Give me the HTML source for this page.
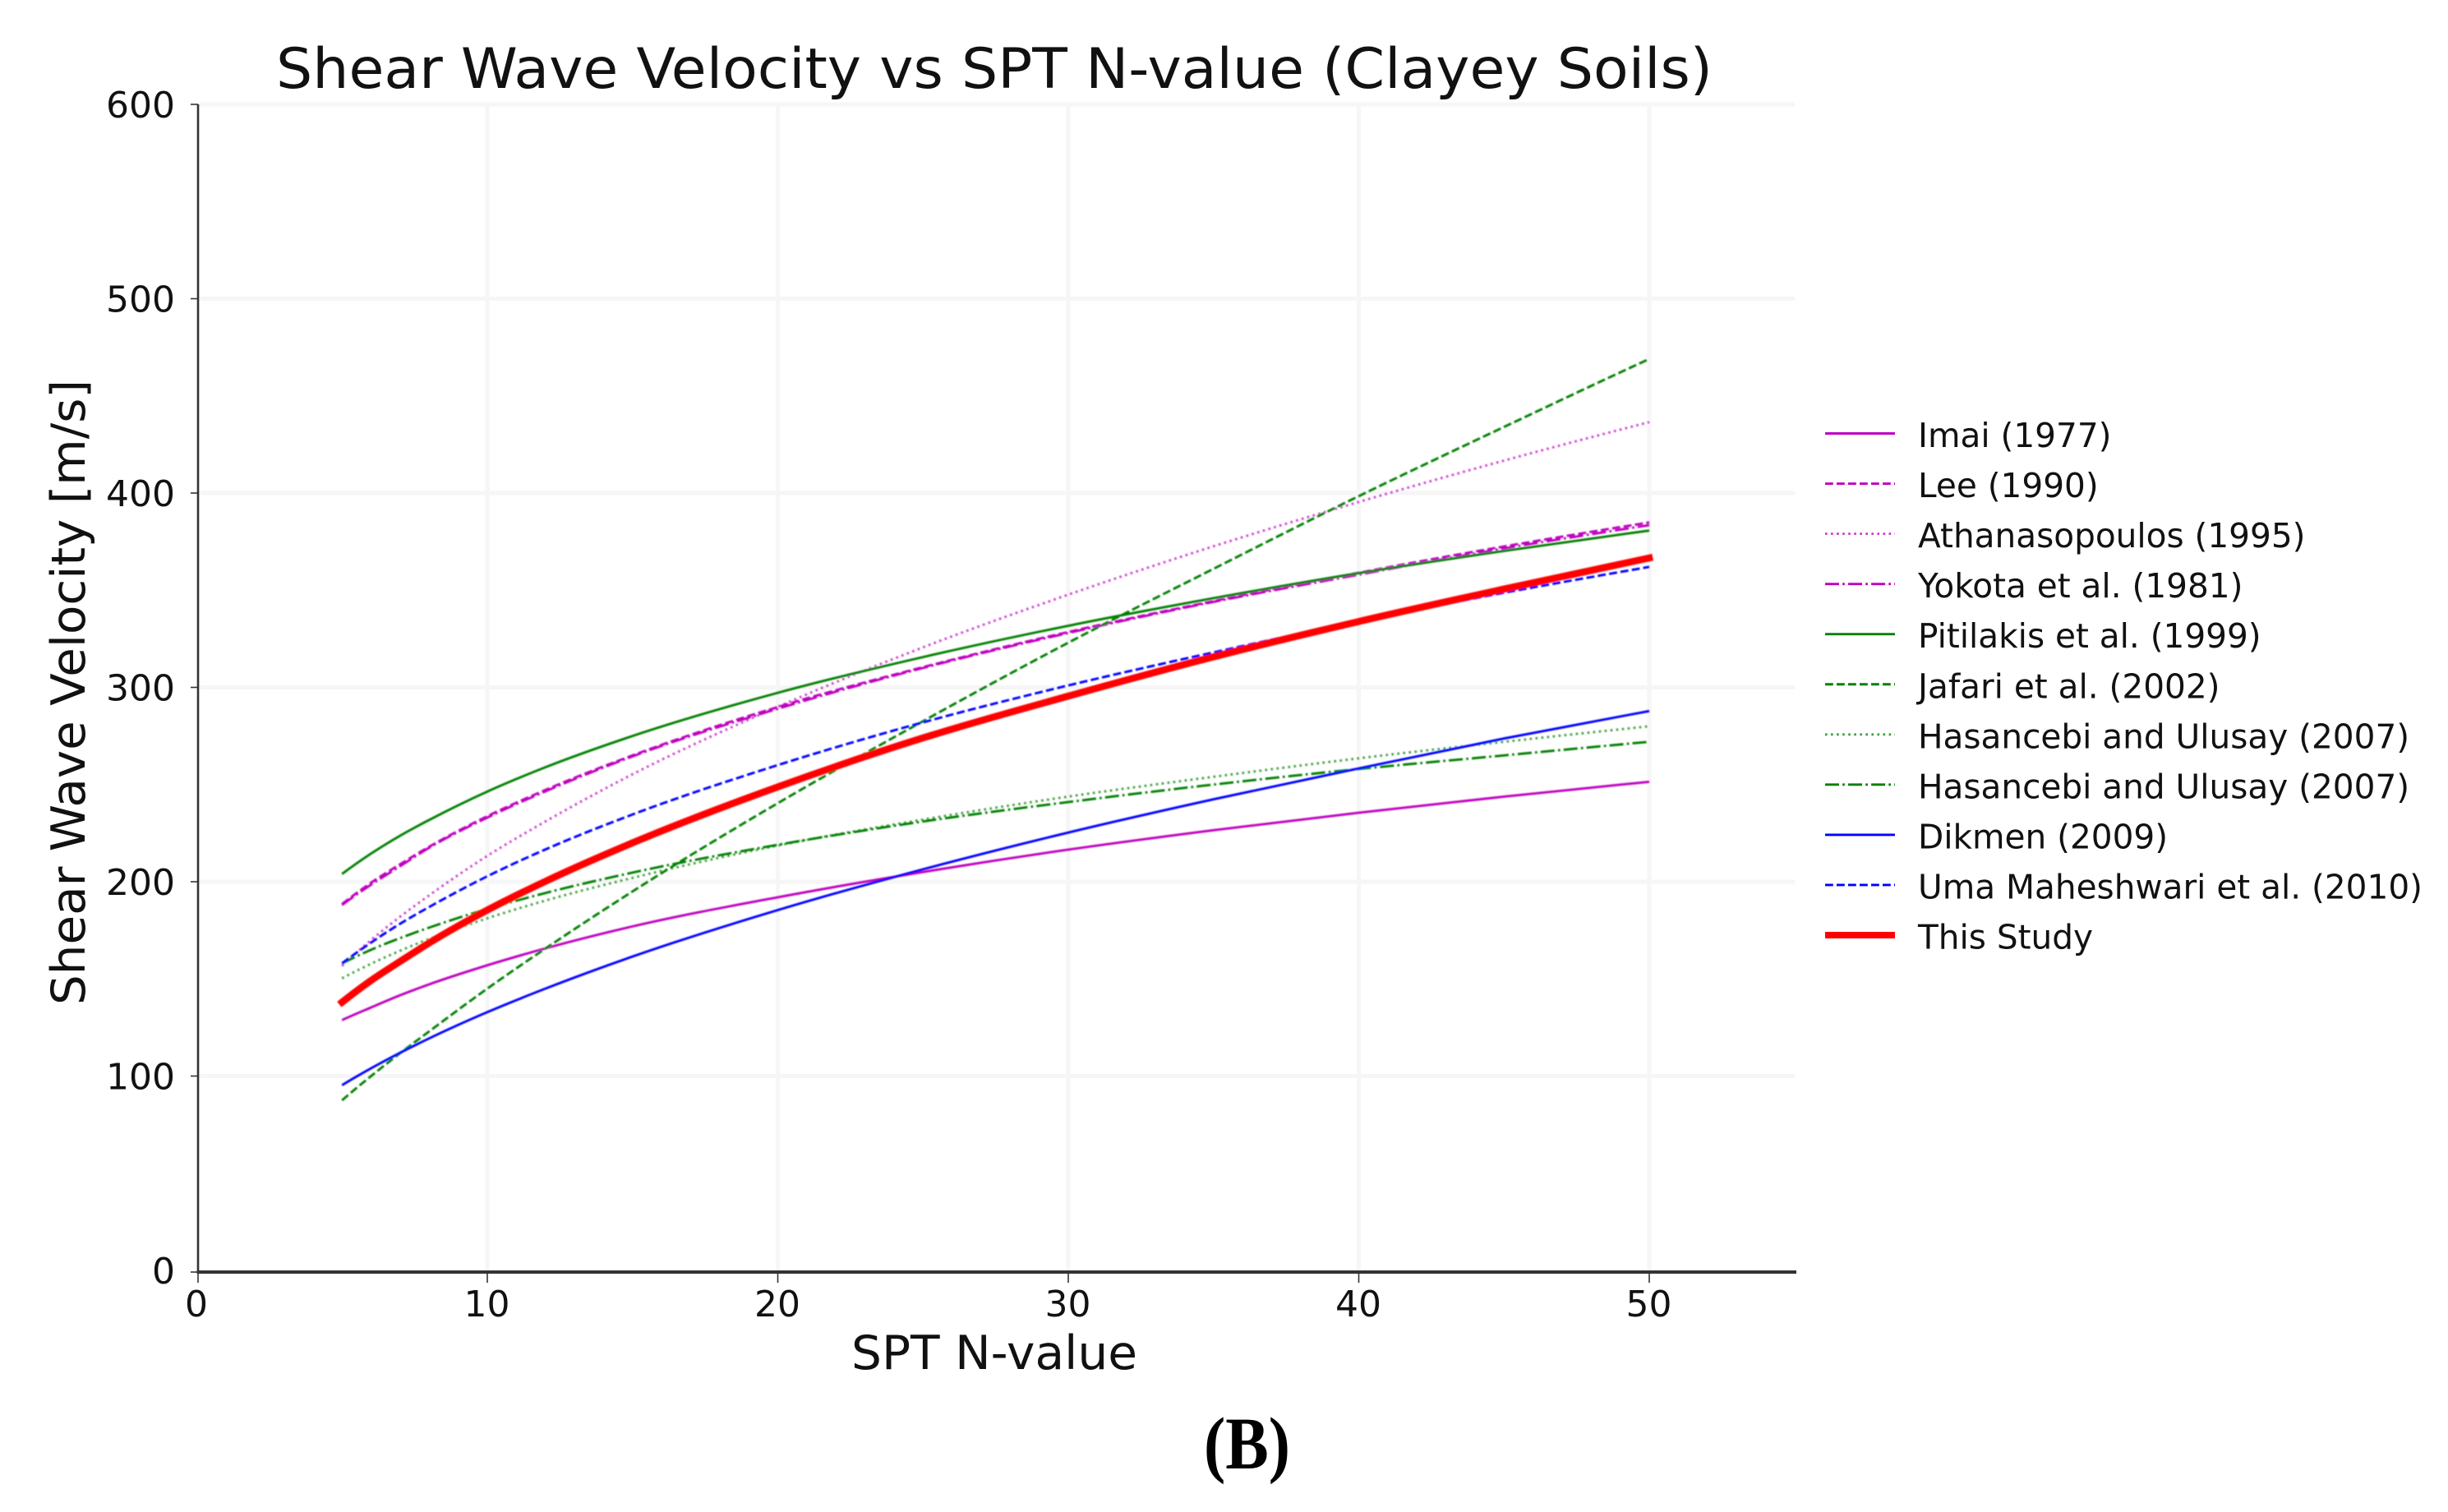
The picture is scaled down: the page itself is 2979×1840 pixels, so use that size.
<!DOCTYPE html>
<html lang="en">
<head>
<meta charset="utf-8">
<title>Shear Wave Velocity vs SPT N-value (Clayey Soils)</title>
<style>
  html, body { margin: 0; padding: 0; background: #ffffff; }
  #chart { display: block; width: 2979px; height: 1840px; }
  text { font-family: "DejaVu Sans", "Liberation Sans", sans-serif; fill: #111; }
  #panel-label { font-family: "Liberation Serif", serif; font-weight: bold; fill: #000; }
</style>
</head>
<body>
<svg id="chart" xmlns="http://www.w3.org/2000/svg" width="2979" height="1840" viewBox="0 0 2979 1840">
  <defs>
    <filter id="soft" x="-5%" y="-5%" width="110%" height="110%"><feGaussianBlur stdDeviation="0.7"/></filter>
  </defs>
  <g id="grid"></g>
  <g id="series" filter="url(#soft)"></g>
  <g id="axes"></g>
  <g id="legend"></g>
  <text x="336" y="107" font-size="68" textLength="1748" lengthAdjust="spacingAndGlyphs">Shear Wave Velocity vs SPT N-value (Clayey Soils)</text>
  <text x="1036" y="1666" font-size="57" textLength="348" lengthAdjust="spacingAndGlyphs">SPT N-value</text>
  <text transform="translate(103 1223) rotate(-90)" x="0" y="0" font-size="57" textLength="761" lengthAdjust="spacingAndGlyphs">Shear Wave Velocity [m/s]</text>
  <text id="panel-label" x="1465" y="1787" font-size="90" textLength="105" lengthAdjust="spacingAndGlyphs">(B)</text>
</svg>
<script>
// Data
const nValues = [5, 6, 7, 8, 10, 12, 15, 20, 25, 30, 35, 40, 45, 50];
const xTicks = [0, 10, 20, 30, 40, 50];
const yTicks = [0, 100, 200, 300, 400, 500, 600];
const seriesNames = ["Imai (1977)", "Lee (1990)", "Athanasopoulos (1995)", "Yokota et al. (1981)", "Pitilakis et al. (1999)", "Jafari et al. (2002)", "Hasancebi and Ulusay (2007)", "Hasancebi and Ulusay (2007)", "Dikmen (2009)", "Uma Maheshwari et al. (2010)", "This Study"];
const imai = [128.8, 135.3, 141.6, 147.2, 157, 165.7, 177, 192, 205, 216.5, 226.5, 235.5, 243.8, 251.4];
const lee = [188.5, 199.5, 209, 218, 233.7, 247.2, 265, 289.9, 310.4, 328.5, 344.4, 359, 372.5, 384.9];
const athanasopoulos = [156.7, 170, 182, 193, 213.3, 231, 255.3, 290, 320.6, 347.7, 372.6, 395.4, 416.7, 436.5];
const yokota = [188, 198.5, 208, 217.5, 233, 246.5, 264.5, 289, 310, 328, 344, 358, 371.5, 383.5];
const pitilakis = [204, 214.5, 223.7, 231.8, 246.4, 258.9, 275, 297.2, 315.6, 331.7, 345.9, 358.8, 370.2, 380.7];
const jafari = [87.5, 100, 111.8, 123, 145, 165.6, 195, 240.4, 282.6, 323, 361, 398.4, 434, 469];
const hasancebiA = [150.3, 157.8, 164.5, 170.6, 181.2, 190.3, 202, 218.6, 232, 243.8, 254, 263.5, 272, 280];
const hasancebiB = [158, 165, 171, 176.4, 186, 194.2, 204.7, 219, 231, 241, 250, 258, 265, 272];
const dikmen = [95.3, 104, 112, 119.4, 132.9, 145, 161.5, 185.4, 206.4, 225.3, 242.4, 258.3, 273.7, 287.8];
const umaMaheshwari = [158, 168.7, 178.4, 187, 202.8, 216.6, 234.6, 260, 282, 301, 318, 334, 348.7, 362];
const thisStudy = [138, 149.2, 159, 168.5, 185.4, 200.2, 220, 248.8, 274, 295.5, 315.7, 333.9, 350.6, 366.6];

const allSeries = [imai, lee, athanasopoulos, yokota, pitilakis, jafari, hasancebiA, hasancebiB, dikmen, umaMaheshwari, thisStudy];
const seriesSlugs = ["imai-1977", "lee-1990", "athanasopoulos-1995", "yokota-1981", "pitilakis-1999", "jafari-2002", "hasancebi-ulusay-2007-a", "hasancebi-ulusay-2007-b", "dikmen-2009", "uma-maheshwari-2010", "this-study"];
const M = "#bf00bf", G = "#008000", B = "#0000ff", R = "#ff0000";
const seriesColors = [M, M, M, M, G, G, G, G, B, B, R];
const seriesStyles = ["solid", "dashed", "dotted", "dashdot", "solid", "dashed", "dotted", "dashdot", "solid", "dashed", "solid"];

const NS = "http://www.w3.org/2000/svg";
const xScale = n => 239.5 + 35.35 * n;
const yScale = v => 1546 - 2.365 * v;
const LW = 2.9;
const dashFor = s => s === "dashed" ? "9.8 4.2" : s === "dotted" ? "2.65 4.4" : s === "dashdot" ? "17 4.2 2.65 4.2" : "none";

function mk(tag, attrs, parent) {
  const e = document.createElementNS(NS, tag);
  for (const k in attrs) e.setAttribute(k, attrs[k]);
  parent.appendChild(e);
  return e;
}

// smooth path through the data points (finite-difference Hermite)
function curvePath(xs, ys) {
  const px = xs.map(xScale), py = ys.map(yScale), n = px.length;
  const m = px.map((_, i) => {
    if (i === 0) return (py[1] - py[0]) / (px[1] - px[0]) * 1.06;
    if (i === n - 1) return (py[n - 1] - py[n - 2]) / (px[n - 1] - px[n - 2]) * 0.98;
    const h0 = px[i] - px[i - 1], h1 = px[i + 1] - px[i];
    const d0 = (py[i] - py[i - 1]) / h0, d1 = (py[i + 1] - py[i]) / h1;
    return (h1 * d0 + h0 * d1) / (h0 + h1);
  });
  let d = "M" + px[0].toFixed(2) + " " + py[0].toFixed(2);
  for (let i = 0; i < n - 1; i++) {
    const h = px[i + 1] - px[i];
    d += " C" + (px[i] + h / 3).toFixed(2) + " " + (py[i] + m[i] * h / 3).toFixed(2) +
         " " + (px[i + 1] - h / 3).toFixed(2) + " " + (py[i + 1] - m[i + 1] * h / 3).toFixed(2) +
         " " + px[i + 1].toFixed(2) + " " + py[i + 1].toFixed(2);
  }
  return d;
}

const gridG = document.getElementById("grid");
const seriesG = document.getElementById("series");
const axesG = document.getElementById("axes");
const legendG = document.getElementById("legend");

// gridlines
xTicks.forEach(t => {
  if (t === 0) return;
  const l = mk("line", { x1: xScale(t), x2: xScale(t), y1: 127, y2: 1548, stroke: "#f6f6f6", "stroke-width": 5 }, gridG);
  
  
});
yTicks.forEach(t => {
  if (t === 0) return;
  const l = mk("line", { x1: 241, x2: 2184, y1: yScale(t), y2: yScale(t), stroke: "#f6f6f6", "stroke-width": 5 }, gridG);
  
  
});

// series
allSeries.forEach((vals, i) => {
  const isMain = i === allSeries.length - 1;
  const p = mk("path", { d: curvePath(nValues, vals), fill: "none", stroke: seriesColors[i], "stroke-width": isMain ? 8.5 : LW, "stroke-dasharray": dashFor(seriesStyles[i]), "stroke-linecap": isMain ? "square" : "butt", opacity: seriesStyles[i] === "dotted" ? 0.75 : 1 }, seriesG);
  
  
});

// spines
const leftSpine = mk("line", { x1: 241, x2: 241, y1: 127, y2: 1550, stroke: "#333", "stroke-width": 2.6 }, axesG);


const bottomSpine = mk("line", { x1: 239.5, x2: 2186, y1: 1548, y2: 1548, stroke: "#333", "stroke-width": 4 }, axesG);



// ticks and tick labels
xTicks.forEach(t => {
  const tx = t === 0 ? 241 : xScale(t);
  const tk = mk("line", { x1: tx, x2: tx, y1: 1548, y2: 1561, stroke: "#333", "stroke-width": 1.6 }, axesG);
  
  
  const tl = mk("text", { x: xScale(t) - 0.5, y: 1602, "font-size": 44, "text-anchor": "middle" }, axesG);
  tl.textContent = String(t);
  
  
});
yTicks.forEach(t => {
  const tk = mk("line", { x1: 232, x2: 241, y1: t === 0 ? 1548 : yScale(t), y2: t === 0 ? 1548 : yScale(t), stroke: "#333", "stroke-width": 1.6 }, axesG);
  
  
  const tl = mk("text", { x: 213, y: yScale(t) + 16, "font-size": 44, "text-anchor": "end" }, axesG);
  tl.textContent = String(t);
  
  
});

// legend
seriesNames.forEach((name, i) => {
  const isMain = i === seriesNames.length - 1;
  const y = 527.5 + i * 61.05;
  const g = mk("g", {}, legendG);
  
  
  const h = mk("line", { x1: 2221, x2: 2306, y1: y, y2: y, stroke: seriesColors[i], "stroke-width": isMain ? 8 : LW, "stroke-dasharray": dashFor(seriesStyles[i]), opacity: seriesStyles[i] === "dotted" ? 0.75 : 1 }, g);
  
  
  const t = mk("text", { x: 2334, y: y + 16.5, "font-size": 40.6 }, g);
  t.textContent = name;
  
  
});
</script>
</body>
</html>
